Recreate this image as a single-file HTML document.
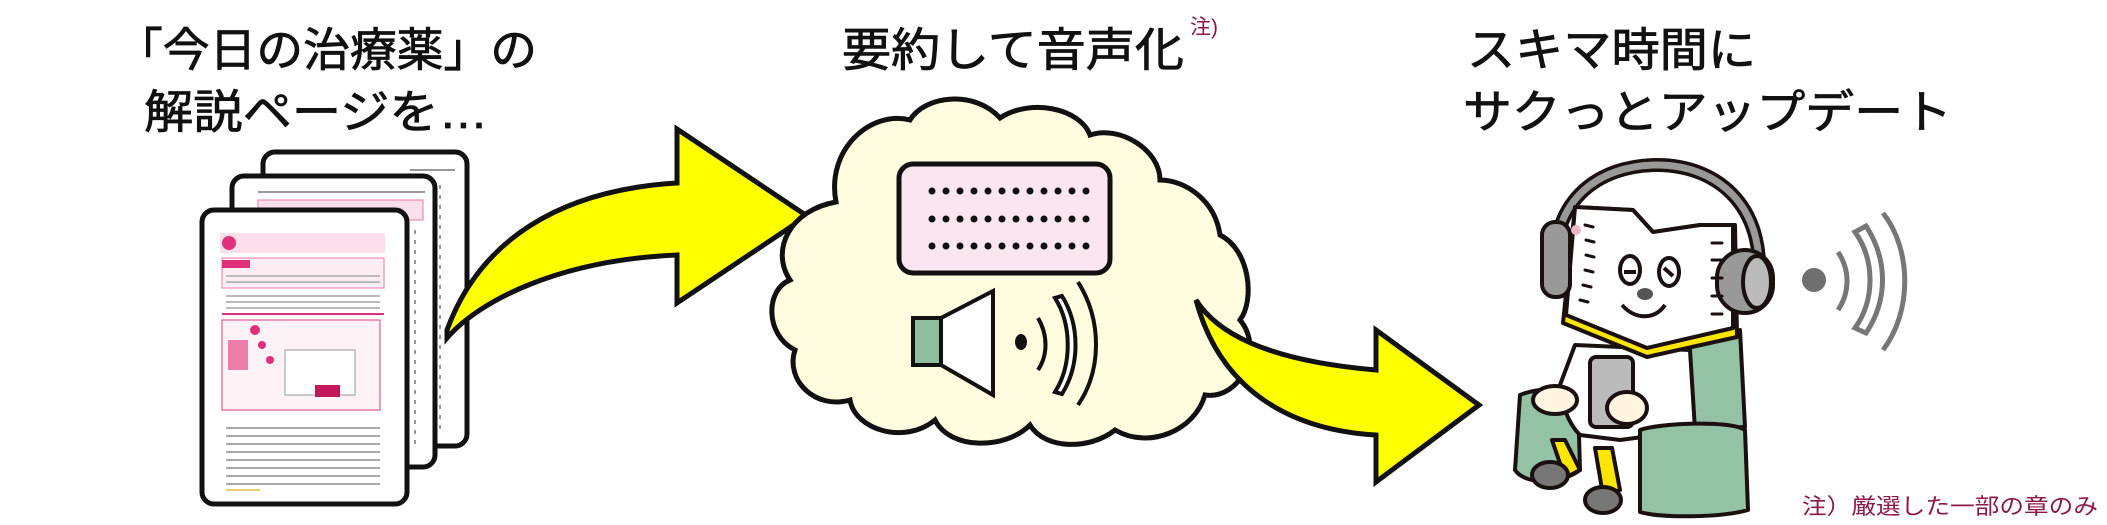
<!DOCTYPE html>
<html><head><meta charset="utf-8"><style>
html,body{margin:0;padding:0;background:#fff;}
svg{display:block;}
text{font-family:"Liberation Sans","Noto Sans CJK JP",sans-serif;}
</style></head><body>
<svg width="2107" height="525" viewBox="0 0 2107 525" xmlns="http://www.w3.org/2000/svg">
<!-- titles -->
<g fill="#111" font-size="46" stroke="#111" stroke-width="0.8">
<text x="116" y="66" textLength="421" lengthAdjust="spacingAndGlyphs">「今日の治療薬」の</text>
<text x="144" y="128" textLength="344" lengthAdjust="spacingAndGlyphs">解説ページを…</text>
<text x="842" y="66" textLength="342" lengthAdjust="spacingAndGlyphs">要約して音声化</text>
<text x="1467" y="66" textLength="289" lengthAdjust="spacingAndGlyphs">スキマ時間に</text>
<text x="1463" y="128" textLength="489" lengthAdjust="spacingAndGlyphs">サクっとアップデート</text>
</g>
<text x="1190" y="34" font-size="21" fill="#8b1a4a">注)</text>
<text x="1802" y="514" font-size="22" fill="#8b1a4a" textLength="296" lengthAdjust="spacingAndGlyphs">注）厳選した一部の章のみ</text>

<!-- documents -->
<rect x="263" y="152" width="204" height="294" rx="12" fill="#fff" stroke="#111" stroke-width="5"/>
<g stroke="#999" stroke-width="2">
<line x1="410" y1="170" x2="455" y2="170"/>
<line x1="440" y1="185" x2="440" y2="430" stroke-dasharray="4 6"/>
</g>
<rect x="232" y="176" width="203" height="291" rx="12" fill="#fff" stroke="#111" stroke-width="5"/>
<g stroke="#999" stroke-width="2">
<line x1="258" y1="192" x2="425" y2="192"/>
<rect x="258" y="200" width="165" height="20" fill="#fbe0ec" stroke="#e879a8" stroke-width="1"/>
<line x1="415" y1="230" x2="415" y2="450" stroke-dasharray="4 6"/>
</g>
<rect x="202" y="210" width="205" height="294" rx="12" fill="#fff" stroke="#111" stroke-width="5"/>
<g>
<rect x="220" y="233" width="165" height="20" fill="#fbe0ec"/>
<circle cx="229" cy="243" r="7" fill="#e0307a"/>
<rect x="222" y="258" width="162" height="30" fill="#fdeef4" stroke="#e879a8" stroke-width="1"/>
<rect x="222" y="260" width="28" height="8" fill="#e0307a"/>
<g stroke="#bbb" stroke-width="2">
<line x1="226" y1="276" x2="380" y2="276"/><line x1="226" y1="282" x2="380" y2="282"/>
<line x1="226" y1="296" x2="380" y2="296"/><line x1="226" y1="302" x2="380" y2="302"/>
<line x1="226" y1="308" x2="380" y2="308"/>
</g>
<line x1="222" y1="314" x2="384" y2="314" stroke="#e0307a" stroke-width="2"/>
<rect x="222" y="320" width="158" height="90" fill="#fdf2f6" stroke="#e879a8" stroke-width="1.5"/>
<rect x="228" y="340" width="20" height="30" fill="#e0307a" opacity=".6"/>
<rect x="285" y="350" width="70" height="45" fill="#fff" stroke="#999" stroke-width="1"/>
<circle cx="255" cy="330" r="5" fill="#e0307a"/><circle cx="262" cy="345" r="4" fill="#e0307a"/>
<circle cx="270" cy="360" r="4" fill="#e0307a"/>
<rect x="315" y="385" width="25" height="12" fill="#c2185b"/>
<g stroke="#aaa" stroke-width="2">
<line x1="226" y1="428" x2="380" y2="428"/><line x1="226" y1="436" x2="380" y2="436"/>
<line x1="226" y1="444" x2="380" y2="444"/><line x1="226" y1="452" x2="380" y2="452"/>
<line x1="226" y1="460" x2="380" y2="460"/><line x1="226" y1="468" x2="380" y2="468"/>
<line x1="226" y1="476" x2="380" y2="476"/><line x1="226" y1="484" x2="380" y2="484"/>
</g>
<line x1="226" y1="490" x2="260" y2="490" stroke="#e6d070" stroke-width="2"/>
</g>

<!-- arrow 1 -->
<path d="M447,338 C480,300 560,260 677,255 L677,303 L807,216 L677,129 L677,183 C560,190 480,240 447,330 Z" fill="#ffff00" stroke="#111" stroke-width="5" stroke-linejoin="miter"/>

<!-- cloud -->
<path d="M836,202 C826,150 870,110 910,120 C925,95 975,90 1000,118 C1030,98 1080,108 1090,135 C1120,125 1160,150 1160,180 C1185,180 1215,200 1220,235 C1250,250 1255,300 1240,320 C1265,350 1240,400 1205,395 C1195,430 1150,450 1115,430 C1090,450 1045,450 1030,425 C1005,450 950,450 935,420 C905,445 855,430 850,400 C815,410 785,380 795,350 C765,335 765,290 790,280 C770,250 790,210 836,202 Z" fill="#fffce0" stroke="#111" stroke-width="5"/>
<rect x="899" y="164" width="211" height="109" rx="14" fill="#fbe6ef" stroke="#111" stroke-width="5"/>
<g fill="#111">
<g id="row"><circle cx="932" cy="191" r="3.5"/><circle cx="946" cy="191" r="3.5"/><circle cx="960" cy="191" r="3.5"/><circle cx="974" cy="191" r="3.5"/><circle cx="988" cy="191" r="3.5"/><circle cx="1002" cy="191" r="3.5"/><circle cx="1016" cy="191" r="3.5"/><circle cx="1030" cy="191" r="3.5"/><circle cx="1044" cy="191" r="3.5"/><circle cx="1058" cy="191" r="3.5"/><circle cx="1072" cy="191" r="3.5"/><circle cx="1086" cy="191" r="3.5"/></g>
<use href="#row" y="28"/><use href="#row" y="55"/>
</g>
<rect x="913" y="318" width="28" height="47" fill="#8fbfa0" stroke="#111" stroke-width="4"/>
<path d="M941,318 L993,291 L993,395 L941,365 Z" fill="#fff" stroke="#111" stroke-width="4"/>
<ellipse cx="1021" cy="342" rx="6" ry="8" fill="#111"/>
<path d="M1038,318 C1048,335 1048,355 1038,370" fill="none" stroke="#111" stroke-width="4"/>
<path d="M1055,298 C1072,325 1072,365 1055,392 L1062,394 C1080,365 1080,325 1062,296 Z" fill="#fff" stroke="#111" stroke-width="4"/>
<path d="M1078,282 C1102,320 1102,370 1078,405" fill="none" stroke="#111" stroke-width="4"/>

<!-- arrow 2 -->
<path d="M1196,300 C1215,330 1260,360 1376,370 L1376,330 L1479,405 L1376,482 L1376,435 C1290,430 1220,390 1196,300 Z" fill="#ffff00" stroke="#111" stroke-width="5"/>

<!-- character -->
<g stroke="#1a1010" stroke-width="4" stroke-linejoin="round">
<path d="M1557,283 C1545,200 1600,165 1657,165 C1720,165 1770,210 1757,293" fill="none" stroke="#1a1010" stroke-width="14"/>
<path d="M1557,283 C1545,200 1600,165 1657,165 C1720,165 1770,210 1757,293" fill="none" stroke="#999" stroke-width="7"/>
<path d="M1687,345 L1740,330 L1745,427 L1690,430 Z" fill="#94c2a4"/>
<path d="M1520,395 C1545,385 1575,390 1578,400 L1580,470 C1560,485 1525,485 1515,470 Z" fill="#94c2a4"/>
<path d="M1575,345 L1690,350 L1695,430 L1620,440 L1580,435 C1565,420 1560,395 1560,385 Z" fill="#fff"/>
<path d="M1552,440 L1565,440 L1580,470 L1565,478 Z" fill="#ffe600"/>
<path d="M1595,448 L1612,448 L1620,490 L1603,495 Z" fill="#ffe600"/>
<ellipse cx="1550" cy="475" rx="18" ry="13" fill="#777"/>
<ellipse cx="1603" cy="500" rx="18" ry="13" fill="#777"/>
<path d="M1640,430 C1660,423 1730,420 1745,430 L1748,510 C1720,518 1660,518 1640,512 Z" fill="#94c2a4"/>
<rect x="1590" y="357" width="43" height="70" rx="6" fill="#bbb"/>
<ellipse cx="1555" cy="400" rx="22" ry="14" fill="#fff5e0"/>
<ellipse cx="1627" cy="408" rx="20" ry="16" fill="#fff5e0"/>
<path d="M1563,323 L1647,357 L1737,337 L1735,225 L1700,225 L1653,232 L1633,210 L1575,207 Z" fill="#ffe600"/>
<path d="M1566,315 L1647,348 L1733,328 L1733,225 L1700,225 L1653,232 L1633,210 L1575,207 Z" fill="#fff"/>
<rect x="1542" y="222" width="28" height="75" rx="13" fill="#999"/>
<rect x="1717" y="250" width="56" height="63" rx="28" fill="#999"/>
<ellipse cx="1757" cy="282" rx="14" ry="26" fill="#bbb"/>
<ellipse cx="1630" cy="270" rx="10" ry="14" fill="#fff"/>
<ellipse cx="1669" cy="272" rx="10" ry="14" fill="#fff"/>
<path d="M1624,272 L1636,272 M1664,268 L1673,276" fill="none"/>
<path d="M1622,305 C1635,320 1655,320 1665,305" fill="none"/>
</g>
<ellipse cx="1645" cy="294" rx="8" ry="6" fill="#555"/>
<circle cx="1576" cy="230" r="5" fill="#f4b4c4"/>
<g stroke="#1a1010" stroke-width="3" stroke-linecap="round">
<line x1="1585" y1="225" x2="1593" y2="227"/><line x1="1586" y1="240" x2="1594" y2="242"/>
<line x1="1586" y1="255" x2="1594" y2="257"/><line x1="1585" y1="270" x2="1593" y2="272"/>
<line x1="1583" y1="285" x2="1591" y2="287"/><line x1="1580" y1="300" x2="1588" y2="302"/>
<line x1="1712" y1="243" x2="1722" y2="243"/><line x1="1712" y1="260" x2="1722" y2="260"/>
<line x1="1712" y1="278" x2="1722" y2="278"/><line x1="1712" y1="296" x2="1722" y2="296"/>
<line x1="1712" y1="314" x2="1722" y2="314"/>
</g>

<!-- wifi -->
<circle cx="1814" cy="280" r="12" fill="#6f6f6f"/>
<path d="M1838,252 C1850,270 1850,292 1838,310" fill="none" stroke="#777" stroke-width="5"/>
<path d="M1855,232 C1875,260 1875,300 1855,328 L1866,333 C1888,300 1888,260 1866,226 Z" fill="#fff" stroke="#777" stroke-width="5"/>
<path d="M1883,213 C1912,250 1912,312 1883,350" fill="none" stroke="#777" stroke-width="5"/>
</svg>
</body></html>
